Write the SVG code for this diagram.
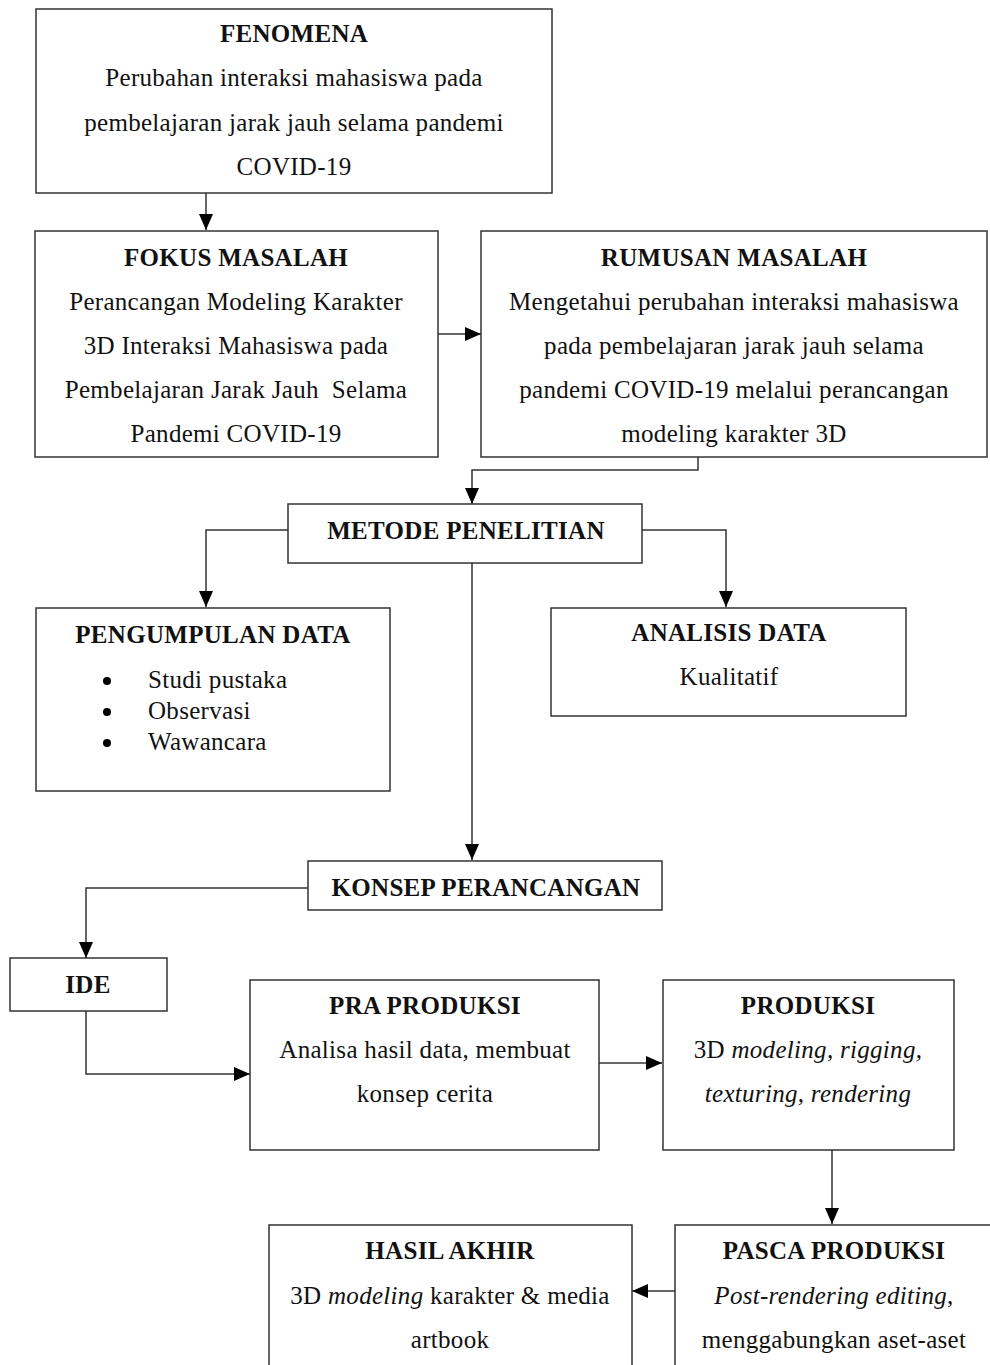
<svg xmlns="http://www.w3.org/2000/svg" width="990" height="1365" viewBox="0 0 990 1365">
<style>
.box{fill:#fff;stroke:#333;stroke-width:1.5}
.t{font-family:"Liberation Serif","Times New Roman",serif;font-size:25px;letter-spacing:0.3px;fill:#111;text-anchor:middle}
.b{font-weight:bold}
.l{text-anchor:start}
.c{fill:none;stroke:#333;stroke-width:1.5}
</style>
<defs>
<marker id="ah" markerUnits="userSpaceOnUse" markerWidth="16" markerHeight="16" refX="16" refY="7" orient="auto">
<path d="M0,0 L16,7 L0,14 z" fill="#000"/>
</marker>
</defs>
<rect width="990" height="1365" fill="#fff"/>
<g id="connectors">
<path class="c" d="M206,193 V230" marker-end="url(#ah)"/>
<path class="c" d="M438,334 H481" marker-end="url(#ah)"/>
<path class="c" d="M698,457 V470 H472 V504" marker-end="url(#ah)"/>
<path class="c" d="M288,530 H206 V607" marker-end="url(#ah)"/>
<path class="c" d="M642,530 H726 V607" marker-end="url(#ah)"/>
<path class="c" d="M472,563 V860" marker-end="url(#ah)"/>
<path class="c" d="M308,888 H86 V958" marker-end="url(#ah)"/>
<path class="c" d="M86,1011 V1074 H250" marker-end="url(#ah)"/>
<path class="c" d="M599,1063 H662" marker-end="url(#ah)"/>
<path class="c" d="M832,1150 V1224" marker-end="url(#ah)"/>
<path class="c" d="M675,1291 H632" marker-end="url(#ah)"/>
</g>
<g id="fenomena">
<rect class="box" x="36" y="9" width="516" height="184"/>
<text class="t b" x="294" y="42">FENOMENA</text>
<text class="t" x="294" y="86">Perubahan interaksi mahasiswa pada</text>
<text class="t" x="294" y="131">pembelajaran jarak jauh selama pandemi</text>
<text class="t" x="294" y="175">COVID-19</text>
</g>
<g id="fokus">
<rect class="box" x="35" y="231" width="403" height="226"/>
<text class="t b" x="236" y="266">FOKUS MASALAH</text>
<text class="t" x="236" y="310">Perancangan Modeling Karakter</text>
<text class="t" x="236" y="354">3D Interaksi Mahasiswa pada</text>
<text class="t" x="236" y="398">Pembelajaran Jarak Jauh&#160; Selama</text>
<text class="t" x="236" y="442">Pandemi COVID-19</text>
</g>
<g id="rumusan">
<rect class="box" x="481" y="231" width="506" height="226"/>
<text class="t b" x="734" y="266">RUMUSAN MASALAH</text>
<text class="t" x="734" y="310">Mengetahui perubahan interaksi mahasiswa</text>
<text class="t" x="734" y="354">pada pembelajaran jarak jauh selama</text>
<text class="t" x="734" y="398">pandemi COVID-19 melalui perancangan</text>
<text class="t" x="734" y="442">modeling karakter 3D</text>
</g>
<g id="metode">
<rect class="box" x="288" y="504" width="354" height="59"/>
<text class="t b" x="466" y="539">METODE PENELITIAN</text>
</g>
<g id="pengumpulan">
<rect class="box" x="36" y="608" width="354" height="183"/>
<text class="t b" x="213" y="643">PENGUMPULAN DATA</text>
<circle cx="107" cy="681" r="4" fill="#000"/>
<circle cx="107" cy="712" r="4" fill="#000"/>
<circle cx="107" cy="743" r="4" fill="#000"/>
<text class="t l" x="148" y="688">Studi pustaka</text>
<text class="t l" x="148" y="719">Observasi</text>
<text class="t l" x="148" y="750">Wawancara</text>
</g>
<g id="analisis">
<rect class="box" x="551" y="608" width="355" height="108"/>
<text class="t b" x="729" y="641">ANALISIS DATA</text>
<text class="t" x="729" y="685">Kualitatif</text>
</g>
<g id="konsep">
<rect class="box" x="308" y="861" width="354" height="49"/>
<text class="t b" x="486" y="896">KONSEP PERANCANGAN</text>
</g>
<g id="ide">
<rect class="box" x="10" y="958" width="157" height="53"/>
<text class="t b" x="88" y="993">IDE</text>
</g>
<g id="praproduksi">
<rect class="box" x="250" y="980" width="349" height="170"/>
<text class="t b" x="425" y="1014">PRA PRODUKSI</text>
<text class="t" x="425" y="1058">Analisa hasil data, membuat</text>
<text class="t" x="425" y="1102">konsep cerita</text>
</g>
<g id="produksi">
<rect class="box" x="663" y="980" width="291" height="170"/>
<text class="t b" x="808" y="1014">PRODUKSI</text>
<text class="t" x="808" y="1058">3D <tspan font-style="italic">modeling, rigging,</tspan></text>
<text class="t" x="808" y="1102" font-style="italic">texturing, rendering</text>
</g>
<g id="pascaproduksi">
<rect class="box" x="675" y="1225" width="340" height="200"/>
<text class="t b" x="834" y="1259">PASCA PRODUKSI</text>
<text class="t" x="834" y="1304"><tspan font-style="italic">Post-rendering editing</tspan>,</text>
<text class="t" x="834" y="1348">menggabungkan aset-aset</text>
</g>
<g id="hasilakhir">
<rect class="box" x="269" y="1225" width="363" height="200"/>
<text class="t b" x="450" y="1259">HASIL AKHIR</text>
<text class="t" x="450" y="1304">3D <tspan font-style="italic">modeling</tspan> karakter &amp; media</text>
<text class="t" x="450" y="1348">artbook</text>
</g>
</svg>
